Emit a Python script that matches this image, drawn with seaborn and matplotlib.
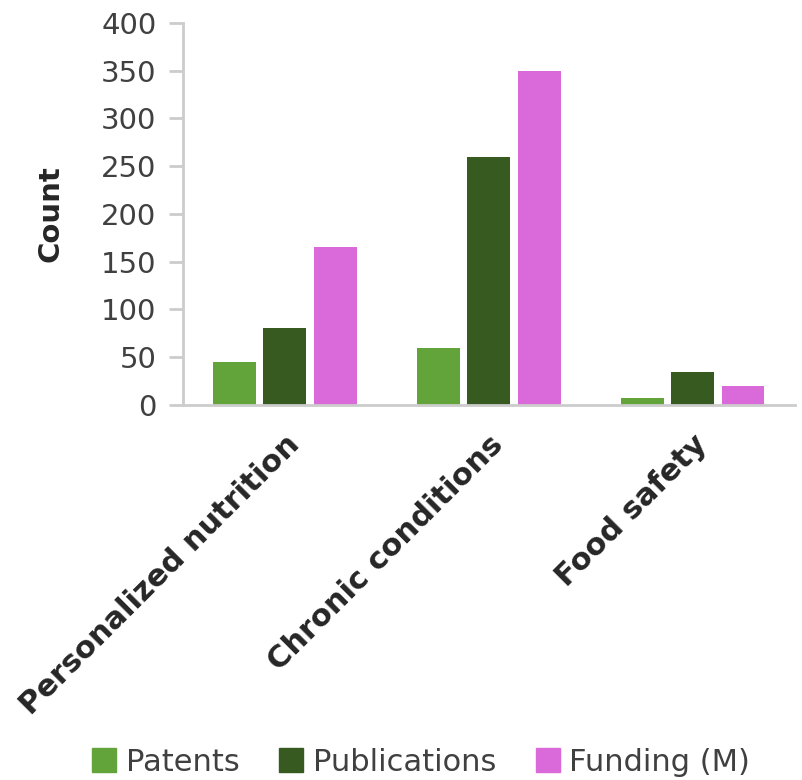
import numpy as np
import pandas as pd
import matplotlib
matplotlib.use("Agg")
import matplotlib.pyplot as plt
import seaborn as sns

categories = ["Personalized nutrition", "Chronic conditions", "Food safety"]
series = ["Patents", "Publications", "Funding (M)"]
patents = [45, 60, 7]
publications = [80, 260, 34]
funding = [165, 350, 20]
colors = ["#62A33A", "#365A20", "#DA6AD9"]

sns.set_theme(style="white")
plt.rcParams["font.family"] = ["DejaVu Sans"]

rows = []
for name, vals in zip(series, [patents, publications, funding]):
    for cat, v in zip(categories, vals):
        rows.append({"category": cat, "series": name, "value": v})
df = pd.DataFrame(rows)

fig = plt.figure(figsize=(8.02, 7.8), dpi=100)
ax = fig.add_axes([0.228, 0.481, 0.763, 0.4895])

sns.barplot(data=df, x="category", y="value", hue="series", hue_order=series,
            palette=colors, width=0.74, gap=0.15, saturation=1, ax=ax,
            edgecolor="none")

ax.set_ylim(0, 400)
ax.set_xlim(-0.5, 2.5)
ax.set_yticks(range(0, 401, 50))
ax.tick_params(axis="y", labelsize=21, labelcolor="#404040", length=10,
               width=2, color="#CCCCCC", left=True, pad=9)
ax.tick_params(axis="x", length=0, pad=18)
for lab in ax.get_xticklabels():
    lab.set_rotation(45)
    lab.set_ha("right")
    lab.set_rotation_mode("anchor")
    lab.set_fontsize(22)
    lab.set_fontweight("bold")
    lab.set_color("#262626")
ax.set_xlabel("")
ax.set_ylabel("Count", fontsize=21, fontweight="bold", color="#262626", labelpad=26)

sns.despine(ax=ax)
for side in ["left", "bottom"]:
    ax.spines[side].set_color("#CCCCCC")
    ax.spines[side].set_linewidth(2)

ax.legend_.remove()
handles = [plt.Rectangle((0, 0), 1, 1, color=c) for c in colors]
fig.legend(handles, series, loc="center", bbox_to_anchor=(0.525, 0.023), ncol=3,
           frameon=False, fontsize=22, handlelength=0.8, handleheight=0.8,
           handletextpad=0.3, columnspacing=1.3, labelcolor="#404040")

fig.savefig("out.png", dpi=100)
